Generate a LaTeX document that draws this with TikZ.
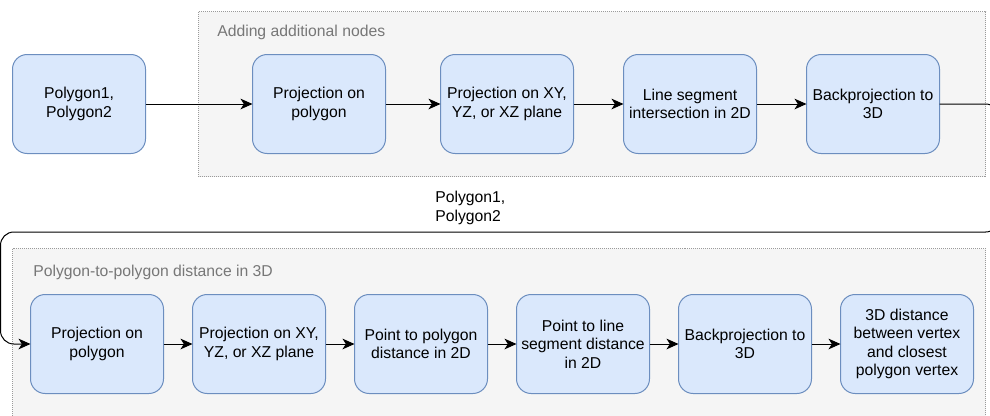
\documentclass[tikz,border=0pt]{standalone}
\usepackage{fontspec}
\setmainfont{Liberation Sans}
\usepackage{tikz}
\usetikzlibrary{positioning}
\usetikzlibrary{arrows.meta}
\definecolor{boxfill}{HTML}{DAE8FC}
\definecolor{boxline}{HTML}{6C8EBF}
\definecolor{groupfill}{HTML}{F5F5F5}
\definecolor{groupline}{HTML}{9A9A9A}
\definecolor{grouptext}{HTML}{777777}

\begin{document}
\begin{tikzpicture}[
x=0.75pt, y=-0.75pt,
font=\fontsize{11.8}{13.8}\selectfont,
stepbox/.style={rectangle, rounded corners=11pt, draw=boxline, fill=boxfill, line width=0.75pt, minimum width=99.75pt, minimum height=74.25pt, align=center, inner sep=0, outer sep=0},
groupbox/.style={draw=groupline, fill=groupfill, line width=0.75pt, dash pattern=on 0.75pt off 0.75pt},
grouplabel/.style={text=grouptext, anchor=base west, inner sep=0},
flow/.style={line width=0.75pt, -{Stealth[length=9pt, width=8pt, inset=2.5pt]}},
node distance=21.75pt
]
\useasboundingbox (0,0) rectangle (990,415);
\clip (0,0) rectangle (990,415);

\draw[groupbox] (198.5,11.5) rectangle (985.5,176.5);
\draw[groupbox] (12.5,248.5) rectangle (985.5,430);
\node[grouplabel] (addlabel) at (217,36) {Adding additional nodes};
\node[grouplabel] (distlabel) at (33,276) {Polygon-to-polygon distance in 3D};

\node[stepbox] (in) at (79,104) {Polygon1,\\Polygon2};
\node[stepbox, right=80.25pt of in] (proj) {Projection on\\polygon};
\node[stepbox, right=41.25pt of proj] (plane) {Projection on XY,\\YZ, or XZ plane};
\node[stepbox, right=37.5pt of plane] (cut) {Line segment\\intersection in 2D};
\node[stepbox, right=37.5pt of cut] (back) {Backprojection to\\3D};

\node[stepbox] (dproj) at (97,344) {Projection on\\polygon};
\node[stepbox, right=of dproj] (dplane) {Projection on XY,\\YZ, or XZ plane};
\node[stepbox, right=of dplane] (ptpoly) {Point to polygon\\distance in 2D};
\node[stepbox, right=of ptpoly] (ptline) {Point to line\\segment distance\\in 2D};
\node[stepbox, right=of ptline] (dback) {Backprojection to\\3D};
\node[stepbox, right=of dback] (dist) {3D distance\\between vertex\\and closest\\polygon vertex};

\coordinate (wrapR) at (999,232);
\coordinate (wrapL) at (0.5,232);
\node[anchor=north west, align=left, inner sep=0] (loopin) at (435,191) {Polygon1,\\Polygon2};

\draw[flow] (in) to (proj);
\draw[flow] (proj) to (plane);
\draw[flow] (plane) to (cut);
\draw[flow] (cut) to (back);
\draw[flow, rounded corners=10pt] (back.east) -| (wrapR) -- (wrapL) |- (dproj.west);
\draw[flow] (dproj) to (dplane);
\draw[flow] (dplane) to (ptpoly);
\draw[flow] (ptpoly) to (ptline);
\draw[flow] (ptline) to (dback);
\draw[flow] (dback) to (dist);
\end{tikzpicture}
\end{document}
